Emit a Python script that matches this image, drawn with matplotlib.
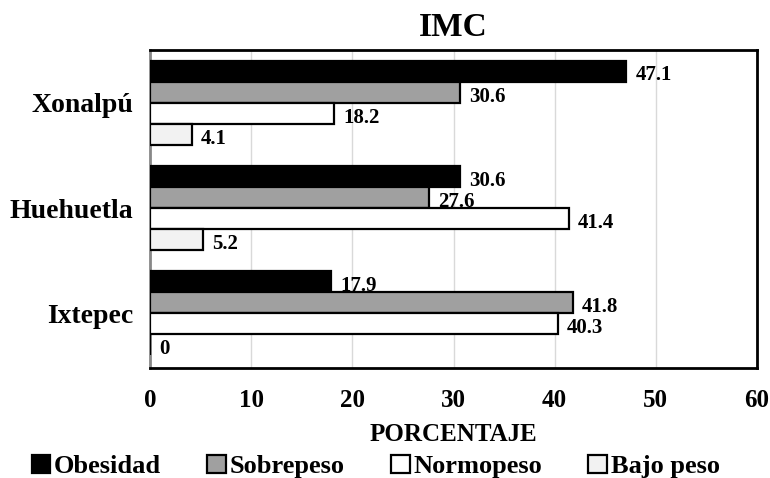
import matplotlib
matplotlib.use('Agg')
import matplotlib.pyplot as plt
import numpy as np

# Datos del grafico (porcentajes)
lugares = ['Xonalpú', 'Huehuetla', 'Ixtepec']
obesidad = [47.1, 30.6, 17.9]
sobrepeso = [30.6, 27.6, 41.8]
normopeso = [18.2, 41.4, 40.3]
bajo_peso = [4.1, 5.2, 0]

series = ['Obesidad', 'Sobrepeso', 'Normopeso', 'Bajo peso']
colores = ['#000000', '#a0a0a0', '#ffffff', '#f2f2f2']

plt.rcParams['font.family'] = ['Liberation Serif', 'DejaVu Serif']
plt.rcParams['font.weight'] = 'bold'

fig = plt.figure(figsize=(7.7, 4.78), dpi=100)
ax = fig.add_axes([0.195, 0.23, 0.788, 0.665])

valores = [obesidad, sobrepeso, normopeso, bajo_peso]
# grupos de arriba hacia abajo
y_base = np.array([2, 1, 0], dtype=float)
h = 0.2
for k, (nombre, vals, col) in enumerate(zip(series, valores, colores)):
    y = y_base + 0.3 - k * h
    ax.barh(y, vals, height=h, color=col, edgecolor='black',
            linewidth=1.6, label=nombre, zorder=3)
    for yi, v in zip(y, vals):
        txt = '0' if v == 0 else '{:.1f}'.format(v)
        ax.text(v + 0.9, yi - 0.04, txt, va='center', ha='left',
                fontsize=15, fontweight='bold', zorder=4)

ax.set_xlim(0, 60)
ax.set_ylim(-0.52, 2.5)
ax.set_xticks(range(0, 61, 10))
ax.set_yticks(y_base)
ax.set_yticklabels(lugares, fontsize=20, fontweight='bold')
ax.tick_params(axis='x', labelsize=18, length=0, pad=15)
ax.tick_params(axis='y', length=0, pad=12)
ax.xaxis.grid(True, color='#d9d9d9', linewidth=1, zorder=0)
ax.set_axisbelow(True)
for s in ax.spines.values():
    s.set_color('black')
    s.set_linewidth(2)
ax.spines['left'].set_color('#888888')

ax.set_title('IMC', fontsize=24, fontweight='bold', pad=10)
ax.set_xlabel('PORCENTAJE', fontsize=18, fontweight='bold', labelpad=8)

fig.legend(loc='lower center', bbox_to_anchor=(0.488, -0.05), ncol=4,
           frameon=False, fontsize=19, handlelength=0.7,
           handleheight=0.7, handletextpad=0.15, columnspacing=1.75)

fig.savefig('out.png', dpi=100)
